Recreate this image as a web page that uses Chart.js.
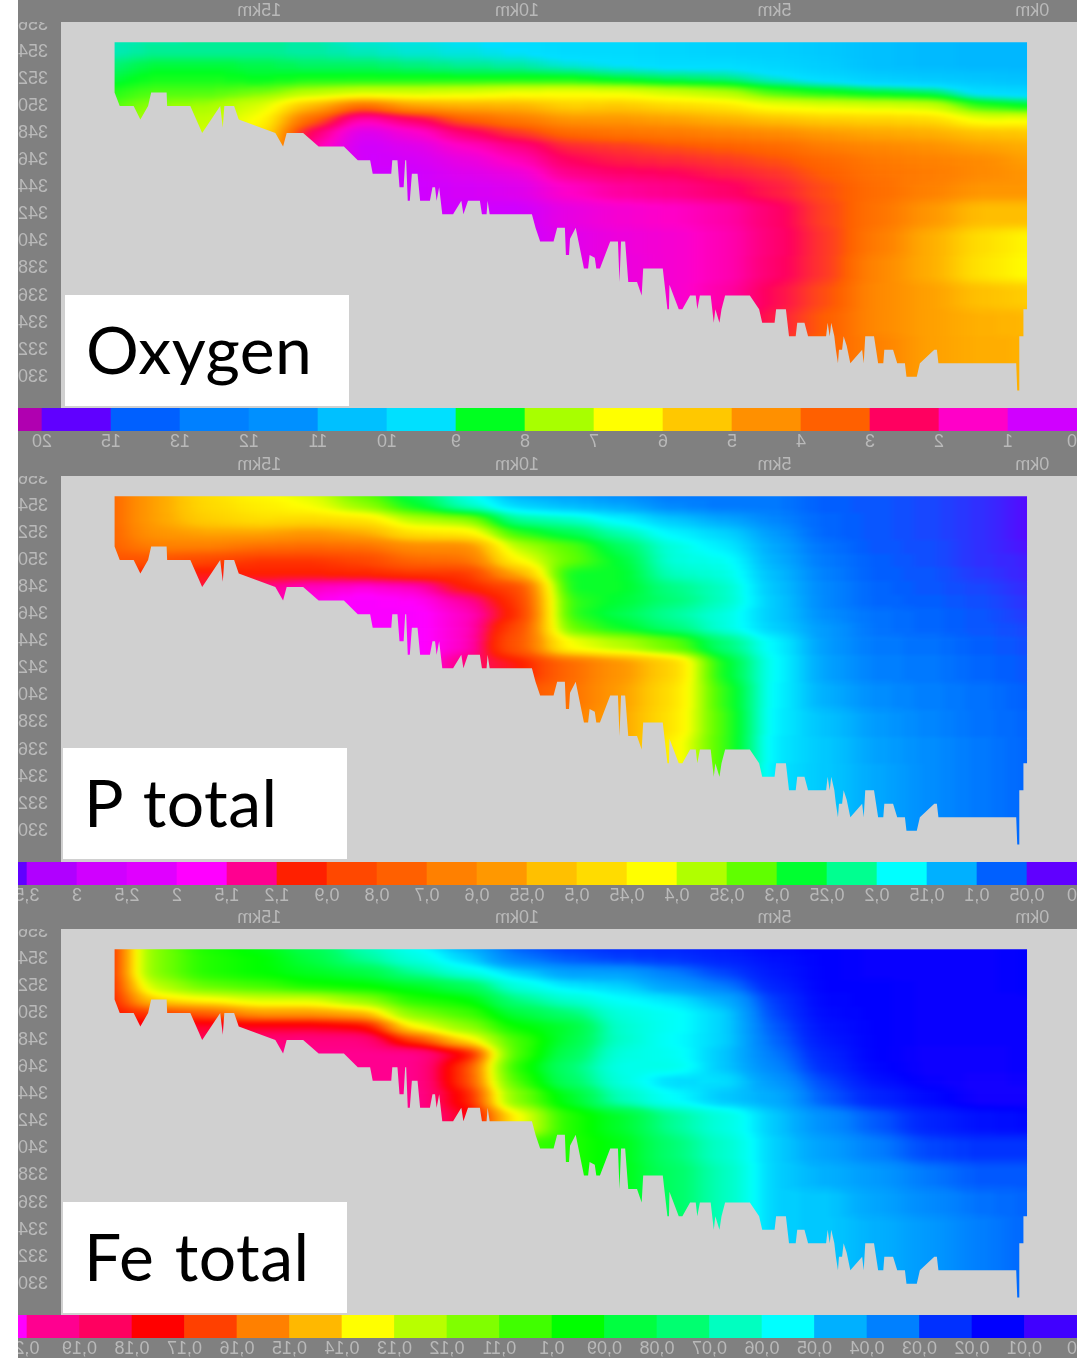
<!DOCTYPE html>
<html>
<head>
<meta charset="utf-8">
<script src="https://cdn.jsdelivr.net/npm/chart.js@4/dist/chart.umd.min.js"></script>
<style>
    html, body { margin: 0; padding: 0; background: #fff; }
    body { width: 1077px; height: 1358px; overflow: hidden; position: relative; }
    /* The source picture is a mirrored screenshot, so the whole chart sheet is flipped */
    #sheet { position: absolute; left: 0; top: 0; width: 1077px; height: 1358px; transform: scaleX(-1); }
    #band { position: absolute; left: 0; top: 0; width: 1059px; height: 1358px; background: #808080; }
    #sheet canvas { position: absolute; left: 0; }
    .tag { position: absolute; width: 284px; height: 111px; background: #fff; color: #000;
           font: 66px Lato, sans-serif; line-height: 107px; word-spacing: 3px; letter-spacing: 0.5px; padding-left: 21px; box-sizing: border-box; }
</style>
</head>
<body>
<div id="sheet"><div id="band"></div></div>
<script>
// Depth rows (m a.s.l.) and the km positions of the grid columns
const rowLevels = [355, 354, 353, 352, 351, 350, 349, 348, 347, 346, 345, 344, 342, 340, 338, 336, 334, 332, 330];
const rowEdges = [356.2, 354.5, 353.5, 352.5, 351.5, 350.5, 349.5, 348.5, 347.5, 346.5, 345.5, 344.5, 343, 341, 339, 337, 335, 333, 331, 327.7];
const columnKm = [0, 1, 2, 3, 4, 5, 6, 7, 8, 9, 10, 11, 12, 13, 14, 15, 16, 17, 18];
const kmTicks = [0, 5, 10, 15];

// One line per km column, top row first; columns end at the seabed
const oxygenGrid = [
    [10.7, 10.7, 10.7, 10.5, 9.8, 8.5, 6.6, 5.5, 5, 4.8, 4.6, 4.6, 5.3, 6.4, 6.5, 5.6, 5.2, 5.1, 5.1],
    [10.7, 10.7, 10.7, 10.3, 9.6, 8.2, 6.7, 5.4, 4.8, 4.4, 4.4, 4.6, 5.3, 5.9, 6, 5.4, 5.1, 5, 5],
    [10.6, 10.6, 10.6, 10.2, 8.8, 7, 5.8, 5, 4.5, 4.2, 4.1, 4.2, 4.6, 5, 5, 4.8, 4.8, 4.8, 4.8],
    [10.5, 10.5, 10.5, 10, 8.6, 6.9, 5.7, 4.9, 4.3, 4, 3.9, 3.8, 3.9, 4.1, 4.3, 4.4, 4.4, 4.2, 4.2],
    [10.2, 10.2, 10.1, 9.7, 8.4, 6.8, 5.6, 4.7, 4.1, 3.7, 3.5, 3.3, 3.2, 3.1, 3.1, 3.3, 3.5, 3.6],
    [10, 10, 9.8, 9.3, 8.1, 6.6, 5.4, 4.4, 3.7, 3.3, 3, 2.8, 2.4, 2.3, 2.4, 2.6, 2.8, 3],
    [9.9, 9.9, 9.6, 8.9, 7.3, 6, 5.1, 4.2, 3.5, 3.1, 2.8, 2.4, 1.8, 1.7, 1.7, 1.8, 2, 2.1],
    [9.8, 9.8, 9.6, 8.8, 7, 5.8, 4.8, 4, 3.3, 2.9, 2.5, 2.1, 1.5, 1.35, 1.3, 1.35, 1.5],
    [9.7, 9.7, 9.5, 8.6, 6.7, 5.5, 4.6, 3.9, 3.1, 2.8, 2.4, 1.9, 1.3, 1.15, 1.1],
    [9.7, 9.7, 9.3, 8.4, 6.6, 5.6, 4.6, 3.7, 2.9, 2.5, 2.1, 1.5, 1, 0.85],
    [9.6, 9.5, 9.1, 8.4, 6.7, 5.1, 4, 3, 2.1, 1.6, 1.1, 0.8, 0.5],
    [9.5, 9.4, 9, 8.4, 6.9, 5, 3.5, 2.3, 1.5, 1, 0.8, 0.6, 0.5],
    [9.4, 9.3, 8.9, 8.4, 7, 4.8, 2.4, 1.3, 0.8, 0.6, 0.5],
    [9.3, 9.2, 8.8, 8.4, 7, 3.6, 1.6, 0.7, 0.5, 0.5],
    [9.1, 9.1, 8.8, 8.4, 7.3, 5.2, 3.6, 2.4, 1.8],
    [9, 9, 8.7, 8.5, 7.8, 6.9, 6.5, 6.2, 6],
    [9, 9, 8.6, 8.4, 8, 7.5, 7.2, 7],
    [9.1, 9, 8.6, 8.4, 8, 7.6, 7.4, 7.3],
    [9.2, 9.2, 8.9, 8.7, 8.3, 8, 7.9]
];
const pTotalGrid = [
    [0.03, 0.03, 0.03, 0.03, 0.035, 0.04, 0.04, 0.045, 0.05, 0.055, 0.06, 0.065, 0.07, 0.075, 0.08, 0.08, 0.08, 0.08, 0.08],
    [0.05, 0.05, 0.05, 0.05, 0.05, 0.05, 0.055, 0.06, 0.065, 0.07, 0.07, 0.075, 0.08, 0.085, 0.085, 0.09, 0.09, 0.09, 0.09],
    [0.06, 0.06, 0.06, 0.06, 0.065, 0.065, 0.07, 0.07, 0.075, 0.08, 0.08, 0.085, 0.09, 0.095, 0.1, 0.105, 0.105, 0.105, 0.105],
    [0.07, 0.07, 0.07, 0.07, 0.07, 0.075, 0.075, 0.08, 0.08, 0.085, 0.085, 0.09, 0.095, 0.105, 0.11, 0.115, 0.12, 0.12, 0.12],
    [0.075, 0.075, 0.08, 0.08, 0.085, 0.09, 0.095, 0.1, 0.1, 0.105, 0.11, 0.11, 0.115, 0.125, 0.135, 0.14, 0.14, 0.14, 0.14],
    [0.09, 0.09, 0.1, 0.11, 0.12, 0.125, 0.13, 0.135, 0.14, 0.14, 0.145, 0.17, 0.175, 0.17, 0.165, 0.16, 0.155, 0.15, 0.15],
    [0.09, 0.09, 0.12, 0.15, 0.165, 0.18, 0.19, 0.2, 0.2, 0.19, 0.19, 0.24, 0.28, 0.3, 0.31, 0.31, 0.31, 0.31],
    [0.09, 0.1, 0.14, 0.17, 0.19, 0.19, 0.2, 0.23, 0.24, 0.22, 0.24, 0.33, 0.49, 0.47, 0.46, 0.44, 0.44],
    [0.1, 0.12, 0.17, 0.21, 0.25, 0.27, 0.28, 0.28, 0.27, 0.26, 0.28, 0.38, 0.58, 0.57, 0.56],
    [0.11, 0.13, 0.2, 0.26, 0.32, 0.33, 0.28, 0.28, 0.3, 0.3, 0.33, 0.42, 0.72, 0.7, 0.65],
    [0.12, 0.15, 0.22, 0.3, 0.38, 0.43, 0.55, 0.85, 0.9, 1, 0.85, 0.8, 1.1, 0.8],
    [0.18, 0.2, 0.36, 0.45, 0.6, 0.7, 0.9, 1.05, 1.4, 1.5, 1.5, 1.5, 1.3],
    [0.25, 0.28, 0.38, 0.46, 0.6, 0.72, 0.9, 1.5, 1.75, 1.8, 1.8, 1.8],
    [0.32, 0.36, 0.46, 0.55, 0.7, 0.85, 1, 1.6, 1.8, 1.8],
    [0.4, 0.42, 0.48, 0.58, 0.72, 0.9, 1.05, 1.5, 1.7],
    [0.43, 0.45, 0.47, 0.56, 0.7, 0.9, 1.05, 1.35],
    [0.47, 0.48, 0.5, 0.56, 0.65, 0.85, 1.1, 1.2],
    [0.56, 0.56, 0.56, 0.58, 0.65, 0.8, 1.05, 1.05],
    [0.75, 0.75, 0.75, 0.75, 0.75, 0.8, 0.9, 0.9]
];
const feTotalGrid = [
    [0.015, 0.015, 0.015, 0.015, 0.014, 0.014, 0.014, 0.014, 0.014, 0.014, 0.013, 0.012, 0.017, 0.025, 0.03, 0.032, 0.032, 0.032, 0.032],
    [0.014, 0.014, 0.014, 0.014, 0.014, 0.014, 0.014, 0.014, 0.013, 0.013, 0.012, 0.012, 0.018, 0.025, 0.03, 0.033, 0.035, 0.035, 0.035],
    [0.014, 0.014, 0.014, 0.014, 0.014, 0.014, 0.014, 0.014, 0.013, 0.013, 0.014, 0.017, 0.022, 0.028, 0.034, 0.037, 0.04, 0.04, 0.04],
    [0.014, 0.014, 0.014, 0.015, 0.015, 0.015, 0.015, 0.015, 0.015, 0.016, 0.018, 0.022, 0.03, 0.035, 0.04, 0.043, 0.045, 0.045, 0.045],
    [0.015, 0.015, 0.015, 0.015, 0.016, 0.017, 0.018, 0.02, 0.022, 0.024, 0.028, 0.03, 0.038, 0.042, 0.045, 0.048, 0.048, 0.048, 0.048],
    [0.016, 0.018, 0.02, 0.022, 0.026, 0.028, 0.03, 0.032, 0.034, 0.036, 0.04, 0.044, 0.048, 0.049, 0.049, 0.049, 0.049, 0.048, 0.048],
    [0.02, 0.022, 0.028, 0.035, 0.045, 0.05, 0.05, 0.05, 0.048, 0.048, 0.052, 0.048, 0.06, 0.063, 0.065, 0.065, 0.065, 0.065],
    [0.022, 0.025, 0.035, 0.042, 0.052, 0.056, 0.056, 0.055, 0.057, 0.058, 0.05, 0.055, 0.07, 0.075, 0.078, 0.078, 0.078],
    [0.024, 0.027, 0.042, 0.05, 0.055, 0.06, 0.062, 0.063, 0.06, 0.058, 0.06, 0.065, 0.088, 0.092, 0.092, 0.092],
    [0.025, 0.03, 0.042, 0.052, 0.062, 0.075, 0.087, 0.085, 0.08, 0.075, 0.078, 0.09, 0.1, 0.1, 0.1],
    [0.03, 0.035, 0.05, 0.06, 0.072, 0.085, 0.095, 0.105, 0.105, 0.1, 0.105, 0.115, 0.135, 0.105],
    [0.045, 0.05, 0.06, 0.08, 0.095, 0.105, 0.118, 0.14, 0.175, 0.165, 0.165, 0.172, 0.178, 0.17],
    [0.055, 0.06, 0.07, 0.09, 0.1, 0.115, 0.135, 0.165, 0.195],
    [0.065, 0.07, 0.085, 0.095, 0.118, 0.145, 0.175, 0.192, 0.195],
    [0.08, 0.085, 0.09, 0.098, 0.13, 0.15, 0.178, 0.192, 0.195],
    [0.092, 0.095, 0.095, 0.105, 0.13, 0.15, 0.178, 0.19, 0.195],
    [0.098, 0.1, 0.1, 0.11, 0.135, 0.16, 0.18, 0.185],
    [0.115, 0.115, 0.115, 0.125, 0.14, 0.165, 0.18, 0.18],
    [0.172, 0.172, 0.172, 0.172, 0.172, 0.172, 0.175, 0.178]
];

// Seabed profile, [km, level], same for all three sections
const seabed = [
    [-0.87, 356.2], [0.1, 356.2], [0.1, 335], [0.17, 335], [0.17, 333], [0.25, 333], [0.25, 329], [0.29, 329], [0.31, 331],
    [1.82, 331], [1.85, 332], [1.9, 332], [2.18, 331], [2.24, 330], [2.44, 330], [2.47, 331], [2.62, 331], [2.7, 332],
    [2.87, 332], [2.89, 331], [2.99, 331], [3.07, 333], [3.24, 333], [3.27, 331], [3.3, 332], [3.53, 331], [3.6, 332.3],
    [3.66, 333], [3.69, 332], [3.75, 332], [3.77, 331], [3.81, 332], [3.84, 333], [3.9, 334], [3.93, 333], [3.97, 334],
    [4, 333], [4.35, 333], [4.42, 334], [4.56, 334], [4.59, 333], [4.72, 333], [4.78, 335], [4.97, 335], [5, 334],
    [5.24, 334], [5.3, 335], [5.48, 336], [5.96, 336], [6.03, 335], [6.07, 334], [6.15, 335], [6.18, 334], [6.24, 336],
    [6.45, 336], [6.5, 335], [6.53, 336], [6.64, 336], [6.79, 335], [6.86, 335], [7.04, 336.8], [7.05, 335], [7.08, 335],
    [7.17, 338], [7.55, 338], [7.58, 336], [7.67, 337], [7.84, 337], [7.9, 340], [7.98, 340], [8.01, 337], [8.04, 340],
    [8.19, 340], [8.39, 338], [8.46, 338], [8.49, 338.8], [8.59, 339], [8.62, 338], [8.7, 338], [8.86, 341], [8.97, 340.2],
    [8.99, 339], [9.05, 339], [9.07, 341], [9.22, 341], [9.29, 340], [9.55, 340], [9.64, 341], [9.71, 342], [10.53, 342],
    [10.57, 343], [10.59, 342], [10.68, 342], [10.72, 343], [10.95, 343], [11.04, 342], [11.08, 343], [11.24, 342],
    [11.45, 342], [11.51, 344], [11.56, 343], [11.59, 344], [11.64, 344], [11.69, 343], [11.88, 343], [11.93, 345],
    [12.04, 345], [12.08, 343], [12.12, 343], [12.15, 346], [12.17, 346], [12.2, 344], [12.28, 344], [12.32, 346],
    [12.42, 346], [12.44, 345], [12.8, 345], [12.85, 346], [13.09, 346], [13.36, 347], [13.85, 347], [14.15, 348],
    [14.47, 348], [14.54, 347], [14.69, 348], [15.4, 349], [15.49, 350], [15.68, 350], [15.71, 348.4], [15.76, 350],
    [16.11, 348], [16.34, 350], [16.79, 350], [16.8, 351], [17.1, 351], [17.16, 350], [17.31, 349], [17.44, 350],
    [17.71, 350], [17.81, 351], [17.81, 356.2], [18.85, 356.2]
];
const waterSurface = [[-0.87, 354.7], [18.85, 354.7]];

// Colour scales: tick values and the colour of each step, low value first
const oxygenTicks = [0, 1, 2, 3, 4, 5, 6, 7, 8, 9, 10, 11, 12, 13, 15, 20];
const oxygenColors = ['#d000ff', '#ff00c8', '#ff0060', '#ff6000', '#ff9000', '#ffc800', '#ffff00', '#a8ff00',
    '#00ff20', '#00e0ff', '#00c0ff', '#0090ff', '#0080ff', '#0060ff', '#6000ff', '#b000b0'];
const pTotalTicks = [0, 0.05, 0.1, 0.15, 0.2, 0.25, 0.3, 0.35, 0.4, 0.45, 0.5, 0.55, 0.6, 0.7, 0.8, 0.9, 1.2, 1.5, 2, 2.5, 3, 3.5];
const pTotalColors = ['#6000ff', '#0060ff', '#00b0ff', '#00ffff', '#00ff90', '#00ff30', '#60ff00', '#b0ff00',
    '#ffff00', '#ffdc00', '#ffc000', '#ff9800', '#ff8000', '#ff6000', '#ff4800', '#ff2000', '#ff0090', '#ff00ff',
    '#e000ff', '#d000ff', '#b000ff', '#6000ff'];
const feTotalTicks = [0, 0.01, 0.02, 0.03, 0.04, 0.05, 0.06, 0.07, 0.08, 0.09, 0.1, 0.11, 0.12, 0.13, 0.14, 0.15, 0.16, 0.17, 0.18, 0.19, 0.2];
const feTotalColors = ['#4000ff', '#0000ff', '#0030ff', '#0080ff', '#00b0ff', '#00ffff', '#00ffc0', '#00ff70',
    '#00ff40', '#00ff00', '#40ff00', '#80ff00', '#b8ff00', '#ffff00', '#ffb800', '#ff8000', '#ff4000', '#ff0000',
    '#ff0060', '#ff0090', '#ff00ff'];

const panels = [
    { name: 'Oxygen', top: 0, grid: oxygenGrid, ticks: oxygenTicks, colors: oxygenColors, step: 69, tagTop: 295, tagLeft: 65 },
    { name: 'P total', top: 454, grid: pTotalGrid, ticks: pTotalTicks, colors: pTotalColors, step: 50, tagTop: 748, tagLeft: 63 },
    { name: 'Fe total', top: 907, grid: feTotalGrid, ticks: feTotalTicks, colors: feTotalColors, step: 52.5, tagTop: 1202, tagLeft: 63 }
];

const KM_MIN = -0.87, KM_MAX = 18.85, LEVEL_MIN = 327.7, LEVEL_MAX = 356.2;
const SHEET_W = 1059, MAP_W = 1016, MAP_H = 386;
const GREY = '#d0d0d0', TEXT = '#b9b9b9';
const tickFont = { family: '"Liberation Sans Narrow", "Liberation Sans", sans-serif', size: 18 };

const sheet = document.getElementById('sheet');

function addCanvas(top, width, height) {
    const canvas = document.createElement('canvas');
    canvas.width = width;
    canvas.height = height;
    canvas.style.top = top + 'px';
    canvas.style.width = width + 'px';
    canvas.style.height = height + 'px';
    sheet.appendChild(canvas);
    return canvas;
}

const baseOptions = {
    responsive: false,
    animation: false,
    devicePixelRatio: 1,
    layout: { padding: 0 },
    plugins: { legend: { display: false }, tooltip: { enabled: false } }
};

// Helper: value to a position on the colour scale, 0..1, coded as a grey level
function valueToGrey(value, ticks) {
    let i = 0;
    while (i < ticks.length - 2 && value >= ticks[i + 1]) i++;
    const index = i + (value - ticks[i]) / (ticks[i + 1] - ticks[i]) - 0.5;
    const g = Math.round(255 * Math.min(1, Math.max(0, index / (ticks.length - 1))));
    return `rgb(${g},${g},${g})`;
}

// Blur the grey field, then look its colours up in the colour scale
function addColourFilter(id, colors) {
    const channel = (start) => colors.map(c => (parseInt(c.substr(start, 2), 16) / 255).toFixed(3)).join(' ');
    document.body.insertAdjacentHTML('beforeend', `
        <svg width="0" height="0" style="position:absolute">
            <filter id="${id}" x="0" y="0" width="100%" height="100%" color-interpolation-filters="sRGB">
                <feGaussianBlur stdDeviation="16 4.5"/>
                <feComponentTransfer>
                    <feFuncR type="table" tableValues="${channel(1)}"/>
                    <feFuncG type="table" tableValues="${channel(3)}"/>
                    <feFuncB type="table" tableValues="${channel(5)}"/>
                </feComponentTransfer>
                <feGaussianBlur stdDeviation="3 1.5"/>
            </filter>
        </svg>`);
}

// km labels in the grey band over a section
function renderKmBand(top) {
    new Chart(addCanvas(top, SHEET_W, 22), {
        type: 'scatter',
        data: { datasets: [] },
        options: {
            ...baseOptions,
            layout: { padding: { right: SHEET_W - MAP_W } },
            scales: {
                x: {
                    type: 'linear', min: KM_MIN, max: KM_MAX, position: 'bottom',
                    grid: { display: false, drawTicks: false }, border: { display: false },
                    afterFit: s => { s.height = 21; s.paddingLeft = 0; s.paddingRight = 0; },
                    ticks: {
                        color: TEXT, font: tickFont, padding: -1, stepSize: 5, autoSkip: false, maxRotation: 0,
                        includeBounds: false,
                        callback: v => kmTicks.includes(v) ? `${v}km` : ''
                    }
                },
                y: { display: false }
            }
        }
    });
}

// Section cells, one dataset per depth row
function renderCells(panel, top, filterId) {
    const kms = [-1, ...columnKm, 19];
    const datasets = rowLevels.map((level, r) => {
        const cell = kms.map(km => {
            const col = panel.grid[Math.min(18, Math.max(0, km))];
            return col[Math.min(r, col.length - 1)];
        });
        return {
            label: String(level),
            data: kms.map(km => ({ x: km, y: [rowEdges[r + 1], rowEdges[r]] })),
            backgroundColor: cell.map(v => valueToGrey(v, panel.ticks)),
            barPercentage: 1,
            categoryPercentage: 1,
            grouped: false
        };
    });
    const canvas = addCanvas(top, MAP_W, MAP_H);
    canvas.style.filter = `url(#${filterId})`;
    new Chart(canvas, {
        type: 'bar',
        data: { datasets },
        options: {
            ...baseOptions,
            scales: {
                x: { type: 'linear', offset: false, min: KM_MIN, max: KM_MAX, display: false },
                y: { min: LEVEL_MIN, max: LEVEL_MAX, display: false }
            }
        }
    });
}

// Grey ground and air over the cells, plus the level axis
function renderGround(top) {
    const toPoints = list => list.map(([x, y]) => ({ x, y }));
    new Chart(addCanvas(top, SHEET_W, MAP_H), {
        type: 'scatter',
        data: {
            datasets: [
                { data: toPoints(seabed), showLine: true, fill: 'start', backgroundColor: GREY, borderWidth: 0, pointRadius: 0, tension: 0 },
                { data: toPoints(waterSurface), showLine: true, fill: 'end', backgroundColor: GREY, borderWidth: 0, pointRadius: 0, tension: 0 }
            ]
        },
        options: {
            ...baseOptions,
            scales: {
                x: { type: 'linear', min: KM_MIN, max: KM_MAX, display: false },
                y: {
                    min: LEVEL_MIN, max: LEVEL_MAX, position: 'right',
                    grid: { display: false, drawTicks: false }, border: { display: false },
                    afterFit: s => { s.width = SHEET_W - MAP_W; s.paddingTop = 0; s.paddingBottom = 0; },
                    ticks: {
                        color: TEXT, font: tickFont, padding: 13, stepSize: 2, autoSkip: false, includeBounds: false,
                        callback: v => (v >= 330 && v <= 356) ? String(v) : ''
                    }
                }
            }
        }
    });
}

// Colour bar with its tick labels
function renderColourBar(panel, top) {
    const maxIndex = SHEET_W / panel.step;
    const datasets = panel.colors.map((color, i) => ({
        data: [[i, Math.min(i + 1, maxIndex)]],
        backgroundColor: color,
        barPercentage: 1,
        categoryPercentage: 1,
        grouped: false
    }));
    new Chart(addCanvas(top, SHEET_W, 45), {
        type: 'bar',
        data: { labels: [''], datasets },
        options: {
            ...baseOptions,
            indexAxis: 'y',
            scales: {
                x: {
                    type: 'linear', min: 0, max: maxIndex, position: 'bottom',
                    grid: { display: false, drawTicks: false }, border: { display: false },
                    afterBuildTicks: s => { s.ticks = panel.ticks.map((_, i) => ({ value: i })).concat({ value: maxIndex }); },
                    afterFit: s => { s.height = 22; s.paddingLeft = 0; s.paddingRight = 0; },
                    ticks: {
                        color: TEXT, font: tickFont, padding: 0, autoSkip: false, maxRotation: 0, minRotation: 0,
                        align: 'inner',
                        callback: v => {
                            const tick = panel.ticks[v];
                            return tick === undefined ? '' : String(tick).replace('.', ',');
                        }
                    }
                },
                y: { display: false }
            }
        }
    });
}

panels.forEach((panel, i) => {
    const filterId = `ramp${i}`;
    addColourFilter(filterId, panel.colors);
    renderKmBand(panel.top);
    renderCells(panel, panel.top + 22, filterId);
    renderGround(panel.top + 22);
    renderColourBar(panel, panel.top + 408);

    const tag = document.createElement('div');
    tag.className = 'tag';
    tag.textContent = panel.name;
    tag.style.left = panel.tagLeft + 'px';
    tag.style.top = panel.tagTop + 'px';
    document.body.appendChild(tag);
});
</script>
</body>
</html>
